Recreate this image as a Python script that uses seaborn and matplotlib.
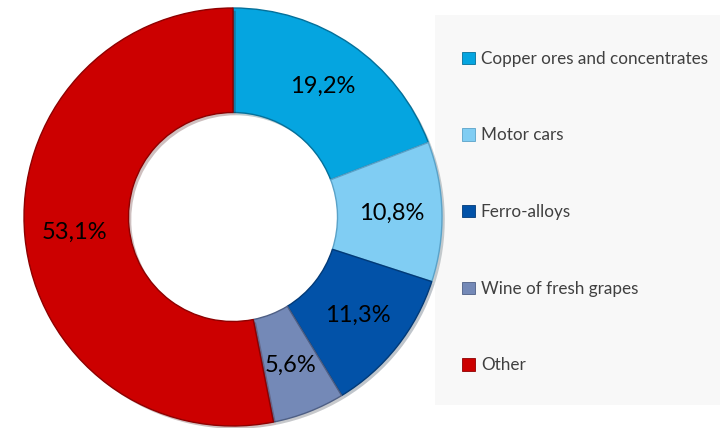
import matplotlib
matplotlib.use("Agg")
import matplotlib.pyplot as plt
import matplotlib.patheffects as pe
from matplotlib.patches import Patch
import seaborn as sns

categories = ["Copper ores and concentrates", "Motor cars", "Ferro-alloys",
              "Wine of fresh grapes", "Other"]
shares = [19.2, 10.8, 11.3, 5.6, 53.1]
colors = ["#05A5E0", "#80CDF3", "#0252A8", "#7489B7", "#CC0000"]
edge_colors = ["#04709A", "#5AA2C8", "#013A78", "#4E5F85", "#8E0000"]

sns.set_theme(style="white")
plt.rcParams["font.family"] = ["Lato", "DejaVu Sans"]

fig = plt.figure(figsize=(7.23, 4.28), dpi=100)
fig.patch.set_facecolor("white")

# legend panel
lax = fig.add_axes([435 / 723, 23 / 428, 285 / 723, 390 / 428])
lax.set_facecolor("#F8F8F8")
for s in lax.spines.values():
    s.set_visible(False)
lax.set_xticks([])
lax.set_yticks([])

# donut
ax = fig.add_axes([24 / 723, 2 / 428, 418 / 723, 418 / 428])
wedges, texts, autotexts = ax.pie(
    shares,
    colors=colors,
    startangle=90,
    counterclock=False,
    radius=1.0,
    pctdistance=0.76,
    autopct=lambda p: f"{p:.1f}%".replace(".", ","),
    wedgeprops=dict(width=0.5, linewidth=1.0),
    textprops=dict(fontsize=17, color="black"),
)
for w, ec in zip(wedges, edge_colors):
    w.set_edgecolor(ec)
    w.set_path_effects([pe.SimplePatchShadow(offset=(2, -2), alpha=0.25),
                        pe.Normal()])
ax.set_xlim(-1.0, 1.0)
ax.set_ylim(-1.0, 1.0)
ax.set_aspect("equal")

handles = [Patch(facecolor=c, edgecolor=ec, linewidth=0.6)
           for c, ec in zip(colors, edge_colors)]
leg = lax.legend(handles, categories, loc="upper left",
                 bbox_to_anchor=(0.065, 0.93), frameon=False,
                 fontsize=12.3, labelcolor="#404040",
                 handlelength=0.75, handleheight=0.75, handletextpad=0.35,
                 labelspacing=3.55, borderpad=0)

fig.savefig("out.png", dpi=100, facecolor="white")
